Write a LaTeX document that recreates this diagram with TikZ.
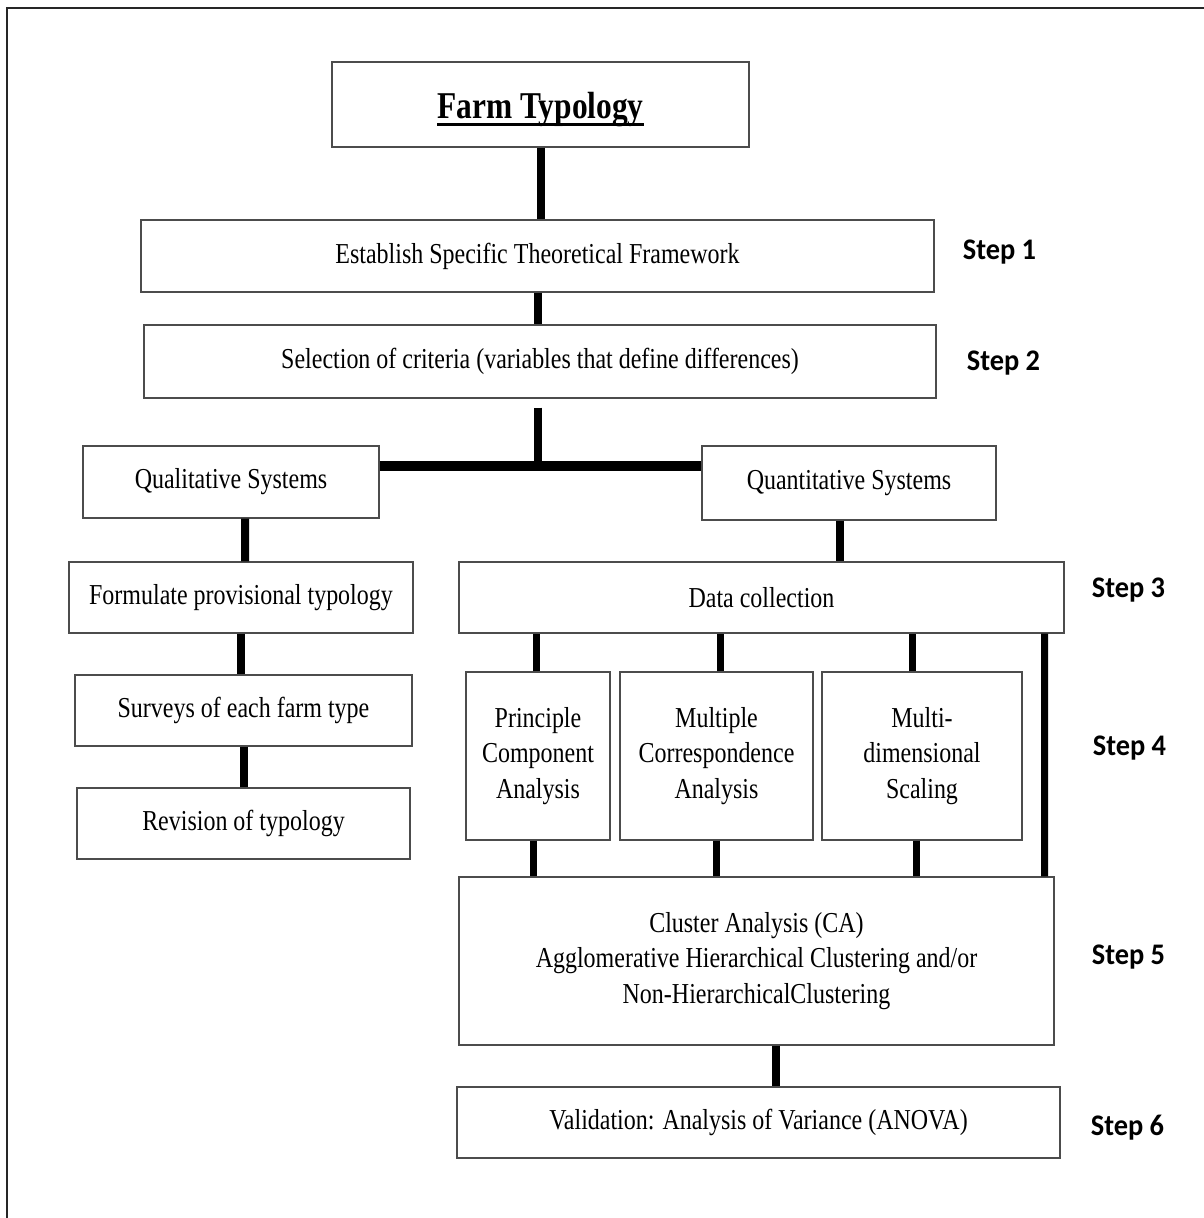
\documentclass[tikz,border=0pt]{standalone}
\usepackage{fontspec}
\setmainfont{Liberation Serif}[FakeStretch=0.83]
\newfontfamily\stepfont{Carlito}[FakeStretch=0.95]
\newcommand\myuline[1]{\setbox0\hbox{#1}\rlap{\vrule width\wd0 height -4.5pt depth 7.2pt}\box0}
\begin{document}
\begin{tikzpicture}[x=1bp,y=-1bp,
  box/.style={draw=black!70,line width=1.3bp,fill=white,inner sep=0pt,align=center,
    font=\fontsize{29}{36}\selectfont},
  conn/.style={line width=8bp,black},
  thinconn/.style={line width=7bp,black},
  steplbl/.style={font=\stepfont\bfseries\fontsize{30}{32}\selectfont,inner sep=0pt}]
\useasboundingbox (0,0) rectangle (1204,1218);
\draw[line width=1.5bp,black!85] (7,1218) -- (7,8) -- (1204,8);

\node[box,minimum width=417bp,minimum height=85bp] (farm) at (540.5,104.5)
  {\fontsize{38}{44}\selectfont\bfseries\raisebox{-5pt}[\height][\depth]{\myuline{Farm Typology}}};
\node[box,minimum width=793bp,minimum height=72bp] (estab) at (537.5,256)
  {Establish Specific Theoretical Framework};
\node[box,minimum width=792bp,minimum height=73bp] (sel) at (540,361.5)
  {Selection of criteria (variables that define differences)};
\node[box,minimum width=296bp,minimum height=72bp] (qual) at (231,482)
  {Qualitative Systems};
\node[box,minimum width=294bp,minimum height=74bp] (quant) at (849,483)
  {Quantitative Systems};
\node[box,minimum width=344bp,minimum height=71bp] (form) at (241,597.5)
  {Formulate provisional typology};
\node[box,minimum width=337bp,minimum height=71bp] (surv) at (243.5,710.5)
  {Surveys of each farm type};
\node[box,minimum width=333bp,minimum height=71bp] (rev) at (243.5,823.5)
  {Revision of typology};
\node[box,minimum width=605bp,minimum height=71bp] (data) at (761.5,597.5)
  {Data collection};
\node[box,minimum width=144bp,minimum height=168bp] (pca) at (538,756)
  {Principle\\Component\\Analysis};
\node[box,minimum width=193bp,minimum height=168bp] (mca) at (716.5,756)
  {Multiple\\Correspondence\\Analysis};
\node[box,minimum width=200bp,minimum height=168bp] (mds) at (922,756)
  {Multi-\\dimensional\\Scaling};
\node[box,minimum width=595bp,minimum height=168bp] (clus) at (756.5,961)
  {Cluster Analysis (CA)\\Agglomerative Hierarchical Clustering and/or\\Non-HierarchicalClustering};
\node[box,minimum width=603bp,minimum height=71bp] (valid) at (758.5,1122.5)
  {Validation: Analysis of Variance (ANOVA)};

\node[steplbl] (s1) at (999.5,252) {Step 1};
\node[steplbl] (s2) at (1003.5,363) {Step 2};
\node[steplbl] (s3) at (1128.5,590) {Step 3};
\node[steplbl] (s4) at (1129.5,748) {Step 4};
\node[steplbl] (s5) at (1128.5,957) {Step 5};
\node[steplbl] (s6) at (1127.5,1128) {Step 6};

\coordinate (j) at (538,466);
\coordinate (qa) at ([xshift=-9bp]quant.south);
\coordinate (pa) at ([xshift=-2bp]pca.north);
\coordinate (ma) at ([xshift=3.5bp]mca.north);
\coordinate (da) at ([xshift=-10bp]mds.north);
\coordinate (pb) at ([xshift=-5bp]pca.south);
\coordinate (mb) at ([xshift=-0.5bp]mca.south);
\coordinate (db) at ([xshift=-6bp]mds.south);
\coordinate (ca) at ([xshift=19.5bp]clus.south);

\draw[conn] (farm.south) -- (estab.north -| farm.south);
\draw[conn] (estab.south) -- (sel.north -| estab.south);
\draw[conn] ([yshift=-9bp]sel.south -| j) -- (j);
\draw[line width=10bp] ([yshift=16bp]qual.east) -- ([yshift=17bp]quant.west);
\draw[conn] ([xshift=14bp]qual.south) -- ([xshift=4bp]form.north);
\draw[conn] (form.south) -- (surv.north -| form.south);
\draw[conn] (surv.south) -- (rev.north);
\draw[conn] (qa) -- (data.north -| qa);
\draw[thinconn] (pa) -- (data.south -| pa);
\draw[thinconn] (ma) -- (data.south -| ma);
\draw[thinconn] (da) -- (data.south -| da);
\draw[thinconn] (pb) -- (clus.north -| pb);
\draw[thinconn] (mb) -- (clus.north -| mb);
\draw[thinconn] (db) -- (clus.north -| db);
\draw[thinconn] ([xshift=-20bp]data.south east) -- ([xshift=-10bp]clus.north east);
\draw[conn] (ca) -- (valid.north -| ca);
\end{tikzpicture}
\end{document}
